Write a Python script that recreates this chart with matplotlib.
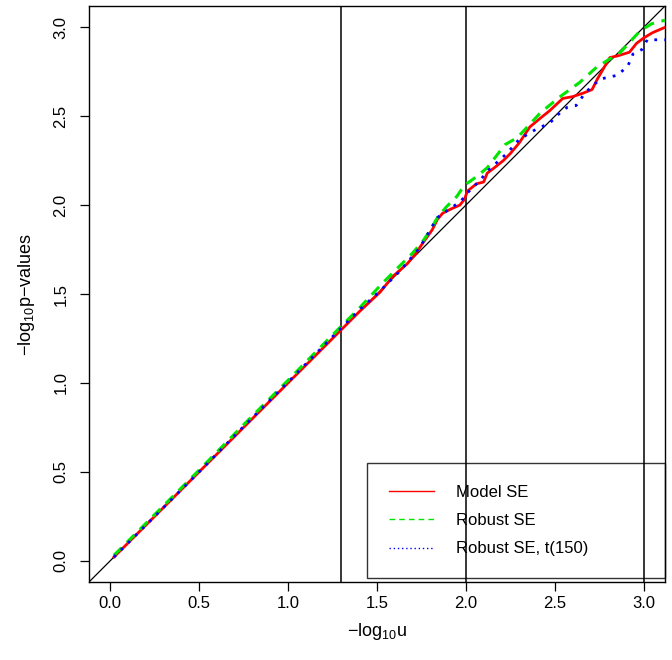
import matplotlib
matplotlib.use("Agg")
import matplotlib.pyplot as plt
from matplotlib.lines import Line2D

plt.rcParams['font.family'] = ['Liberation Sans', 'DejaVu Sans']
plt.rcParams['mathtext.fontset'] = 'custom'
plt.rcParams['mathtext.rm'] = 'Liberation Sans'
plt.rcParams['mathtext.it'] = 'Liberation Sans:italic'

# ---- data ----
model_x = [0.02, 0.25, 0.50, 0.75, 1.00, 1.25, 1.40, 1.517, 1.59, 1.67, 1.72, 1.76, 1.81, 1.84,
           1.87, 1.92, 1.966, 1.99, 2.01, 2.06, 2.10, 2.12, 2.16, 2.21, 2.25, 2.30, 2.36, 2.42,
           2.47, 2.545, 2.60, 2.66, 2.71, 2.74, 2.81, 2.855, 2.92, 2.96, 3.00, 3.05, 3.12]
model_y = [0.02, 0.25, 0.50, 0.75, 1.00, 1.25, 1.40, 1.51, 1.60, 1.67, 1.73, 1.79, 1.86, 1.92,
           1.955, 1.98, 2.00, 2.03, 2.08, 2.12, 2.13, 2.18, 2.21, 2.25, 2.29, 2.35, 2.44, 2.49,
           2.53, 2.60, 2.61, 2.63, 2.65, 2.71, 2.83, 2.84, 2.86, 2.91, 2.94, 2.97, 3.00]

robust_x = [0.02, 0.25, 0.50, 0.75, 1.00, 1.25, 1.40, 1.53, 1.59, 1.70, 1.76, 1.80, 1.84, 1.89,
            1.95, 1.99, 2.06, 2.12, 2.22, 2.29, 2.42, 2.53, 2.64, 2.74, 2.865, 2.98, 3.045, 3.12]
robust_y = [0.03, 0.26, 0.51, 0.765, 1.015, 1.27, 1.42, 1.56, 1.62, 1.73, 1.80, 1.86, 1.93, 1.99,
            2.05, 2.11, 2.16, 2.21, 2.34, 2.38, 2.52, 2.61, 2.69, 2.78, 2.855, 2.98, 3.02, 3.04]

robust_t_x = [0.02, 0.25, 0.50, 0.75, 1.00, 1.25, 1.40, 1.52, 1.63, 1.74, 1.84, 1.91, 1.97,
              2.01, 2.08, 2.13, 2.23, 2.30, 2.40, 2.47, 2.53, 2.57, 2.62, 2.67, 2.71, 2.76,
              2.85, 2.91, 2.94, 2.99, 3.02, 3.12]
robust_t_y = [0.02, 0.25, 0.50, 0.755, 1.005, 1.26, 1.41, 1.52, 1.63, 1.76, 1.93, 1.98, 2.02,
              2.07, 2.14, 2.20, 2.29, 2.37, 2.43, 2.46, 2.52, 2.55, 2.56, 2.63, 2.67, 2.71,
              2.73, 2.78, 2.85, 2.875, 2.93, 2.93]

vlines_x = [1.3, 2.0, 3.0]
ticks = [0.0, 0.5, 1.0, 1.5, 2.0, 2.5, 3.0]
labels = ["Model SE", "Robust SE", "Robust SE, t(150)"]
colors = ["#FF0000", "#00E600", "#0000FF"]

# ---- figure ----
W, H = 672, 660
fig = plt.figure(figsize=(W / 100, H / 100), dpi=100)
L, R, T, B = 89, 665, 6, 582
ax = fig.add_axes([L / W, 1 - B / H, (R - L) / W, (B - T) / H])

lim = (-0.12, 3.12)
ax.plot(lim, lim, color='black', lw=0.9, zorder=2)
for v in vlines_x:
    ax.axvline(v, color='black', lw=1.1, zorder=2)

ax.plot(model_x, model_y, color=colors[0], lw=2.0, zorder=3)
ax.plot(robust_x, robust_y, color=colors[1], lw=2.2, dashes=(3.5, 2.5), zorder=4)
ax.plot(robust_t_x, robust_t_y, color=colors[2], lw=2.0, dashes=(1, 2.6), zorder=5)

ax.set_xlim(lim)
ax.set_ylim(lim)
ax.set_xticks(ticks)
ax.set_yticks(ticks)
ax.set_xticklabels([f"{t:.1f}" for t in ticks], fontsize=12)
ax.set_yticklabels([f"{t:.1f}" for t in ticks], fontsize=12, rotation=90, va='center')
ax.tick_params(direction='out', length=6.5, width=0.9)
ax.tick_params(axis='x', pad=3.6)
ax.tick_params(axis='y', pad=8.3)
for s in ax.spines.values():
    s.set_linewidth(1.0)

ax.set_xlabel(r'$-\mathrm{log}_{10}\mathrm{u}$', fontsize=13)
ax.set_ylabel(r'$-\mathrm{log}_{10}$p−values', fontsize=13)
ax.xaxis.set_label_coords(0.5, -(621 - B) / (B - T))
ax.yaxis.set_label_coords(-(L - 37) / (R - L), 0.5)

handles = [
    Line2D([], [], color=colors[0], lw=1.0),
    Line2D([], [], color=colors[1], lw=1.0, dashes=(4, 3)),
    Line2D([], [], color=colors[2], lw=1.0, dashes=(1, 2)),
]
x0, x1 = 367 / W, 665 / W
y0, y1 = 1 - 582 / H, 1 - 463 / H
leg = ax.legend(handles, labels, loc='upper left', mode='expand',
                bbox_to_anchor=(x0, y0, x1 - x0, y1 - y0), bbox_transform=fig.transFigure,
                fontsize=12, frameon=True, fancybox=False, shadow=False,
                borderpad=1.3, labelspacing=0.8, handlelength=2.75, handletextpad=1.3,
                borderaxespad=0)
fr = leg.get_frame()
fr.set_facecolor('none')
fr.set_edgecolor('black')
fr.set_linewidth(1.0)

fig.savefig('out.png', dpi=100)
